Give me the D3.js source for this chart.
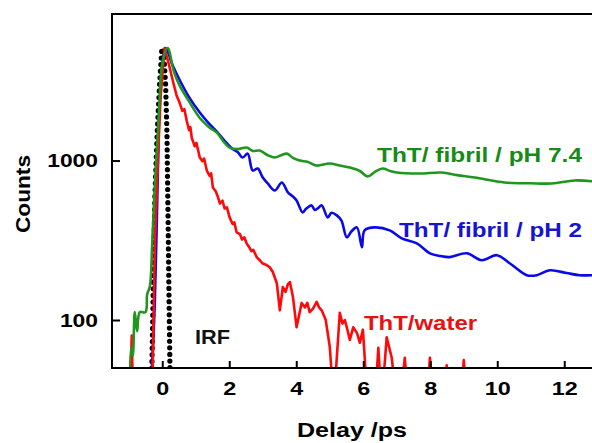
<!DOCTYPE html>
<html>
<head>
<meta charset="utf-8">
<script src="https://cdn.jsdelivr.net/npm/d3@7"></script>
<style>
  body { margin: 0; background: #fff; }
  text { font-family: "Liberation Sans", Arial, sans-serif; font-weight: bold; }
</style>
</head>
<body>
<div id="chart"></div>
<script>
// delay (ps), counts
const irf = [[-0.31, 50], [-0.27, 150], [-0.22, 600], [-0.15, 1500], [-0.08, 3000], [-0.01, 5080],
  [0.05, 4500], [0.1, 3000], [0.14, 1500], [0.17, 500], [0.2, 150], [0.23, 50]];

const water = [[-0.97, 30], [-0.91, 80], [-0.87, 30], [-0.3, 30], [-0.28, 60], [-0.22, 300], [-0.13, 1000],
  [-0.05, 2500], [0.07, 5080], [0.2, 4000], [0.31, 3200], [0.43, 2550], [0.52, 2300],
  [0.6, 2050], [0.66, 2100], [0.73, 1780], [0.8, 1550], [0.84, 1620], [0.88, 1390], [0.97, 1230],
  [1.02, 1290], [1.12, 1045], [1.2, 990], [1.25, 1030], [1.33, 866], [1.42, 800], [1.46, 830],
  [1.51, 678], [1.6, 640], [1.65, 600], [1.72, 538], [1.8, 560], [1.86, 500], [1.93, 508], [2.01, 440],
  [2.1, 400], [2.15, 410], [2.22, 355], [2.32, 345], [2.38, 320], [2.45, 330], [2.52, 302], [2.6, 285],
  [2.66, 270], [2.72, 275], [2.82, 248], [2.91, 237], [3.0, 226], [3.1, 222], [3.21, 214], [3.3, 200],
  [3.42, 170], [3.51, 115], [3.6, 161], [3.68, 150], [3.75, 168], [3.81, 173], [3.9, 140], [4.01, 90],
  [4.16, 128], [4.26, 120], [4.33, 128], [4.4, 112], [4.5, 118], [4.61, 130], [4.68, 120], [4.76, 115],
  [4.88, 100], [5.0, 68], [5.12, 30], [5.3, 111], [5.38, 95], [5.45, 100], [5.52, 88], [5.6, 75],
  [5.7, 90], [5.81, 83], [5.9, 72], [5.99, 87], [6.13, 30], [6.35, 30], [6.45, 67], [6.55, 30],
  [6.7, 78], [6.85, 58], [7.0, 30], [7.1, 30], [7.24, 58], [7.35, 30], [7.9, 30], [7.99, 58], [8.1, 30],
  [8.42, 30], [8.49, 52], [8.56, 30], [8.92, 30], [9.0, 56], [9.1, 30]];

const fibrilPH2 = [[-0.31, 50], [-0.22, 133], [-0.13, 865], [-0.07, 2370], [0.1, 5080], [0.3, 4000],
  [0.52, 3200], [0.8, 2500], [1.12, 2000], [1.35, 1750], [1.63, 1520], [1.85, 1340], [2.1, 1180],
  [2.25, 1130], [2.4, 1045], [2.55, 1105], [2.7, 866], [2.85, 891], [3.0, 783], [3.15, 718], [3.36, 649],
  [3.57, 729], [3.75, 631], [3.88, 600], [4.01, 562], [4.19, 473], [4.3, 500], [4.46, 523], [4.55, 490],
  [4.64, 501], [4.76, 523], [4.94, 440], [5.05, 470], [5.21, 453], [5.35, 420], [5.51, 330], [5.65, 360],
  [5.81, 381], [5.96, 286], [6.04, 365], [6.34, 381], [6.79, 365], [7.15, 325], [7.6, 302], [7.99, 262],
  [8.3, 252], [8.58, 248], [9.09, 262], [9.54, 237], [9.99, 255], [10.37, 227], [10.88, 191],
  [11.18, 191], [11.57, 205], [12.07, 197], [12.46, 191], [12.9, 191]];

const fibrilPH74 = [[-0.97, 30], [-0.93, 67], [-0.88, 60], [-0.82, 112], [-0.75, 85], [-0.67, 112],
  [-0.5, 112], [-0.45, 145], [-0.37, 162], [-0.3, 300], [-0.2, 865], [-0.1, 2000], [0.0, 4050],
  [0.16, 5080], [0.35, 3600], [0.52, 2950], [0.8, 2350], [1.12, 1850], [1.4, 1620], [1.63, 1496],
  [1.85, 1300], [2.01, 1206], [2.25, 1180], [2.52, 1206], [2.7, 1150], [2.91, 1155], [3.15, 1080],
  [3.36, 1045], [3.55, 1080], [3.72, 1105], [3.9, 1040], [4.1, 1000], [4.35, 980], [4.6, 930],
  [5.0, 958], [5.3, 930], [5.6, 904], [5.9, 860], [6.13, 794], [6.35, 850], [6.58, 891], [6.8, 860],
  [7.0, 841], [7.69, 829], [8.34, 841], [8.8, 810], [9.33, 783], [10.22, 729], [11.0, 720], [11.63, 718],
  [12.31, 750], [12.9, 739]];

const xTicks = [0, 2, 4, 6, 8, 10, 12];
const yTicks = [100, 1000];

const width = 592, height = 443;
const mLeft = 112, mTop = 14, mBottom = 368;

const svg = d3.select("#chart").append("svg")
  .attr("width", width)
  .attr("height", height);

const x = d3.scaleLinear().domain([-1.5, 13.5]).range([mLeft, mLeft + 15 * 33.5]);
const y = d3.scaleLog().domain([50, 8300]).range([mBottom, mTop]);

svg.append("clipPath").attr("id", "plot")
  .append("rect").attr("x", mLeft).attr("y", mTop).attr("width", width - mLeft).attr("height", mBottom - mTop);

const line = d3.line().x(d => x(d[0])).y(d => y(d[1]));
const smooth = d3.line().x(d => x(d[0])).y(d => y(d[1])).curve(d3.curveCatmullRom.alpha(0.5));

const g = svg.append("g").attr("clip-path", "url(#plot)");

// IRF dotted
g.append("path")
  .datum(irf)
  .attr("d", line)
  .attr("fill", "none")
  .attr("stroke", "#000")
  .attr("stroke-width", 5.2)
  .attr("stroke-linecap", "round")
  .attr("stroke-dasharray", "0 6.6");

const series = [
  { data: fibrilPH2, color: "#0a0ae6", gen: smooth },
  { data: water, color: "#ff0a0a", gen: line },
  { data: fibrilPH74, color: "#1f961f", gen: smooth }
];
series.forEach(s => {
  g.append("path")
    .datum(s.data)
    .attr("d", s.gen)
    .attr("fill", "none")
    .attr("stroke", s.color)
    .attr("stroke-width", 2.6)
    .attr("stroke-linejoin", "round");
});

// frame
svg.append("path")
  .attr("d", `M${width},${mTop}H${mLeft}V${mBottom}H${width}`)
  .attr("fill", "none")
  .attr("stroke", "#000")
  .attr("stroke-width", 2);

// x axis
const xAxis = d3.axisBottom(x).tickValues(xTicks).tickSizeInner(-7).tickSizeOuter(0).tickPadding(14);
const gx = svg.append("g").attr("transform", `translate(0,${mBottom})`).call(xAxis);
gx.select(".domain").remove();
gx.selectAll(".tick line").attr("stroke", "#000").attr("stroke-width", 2);
gx.selectAll(".tick text").attr("font-size", 19).attr("fill", "#000")
  .attr("font-family", "Liberation Sans, Arial, sans-serif")
  .attr("textLength", d => String(d).length * 13).attr("lengthAdjust", "spacingAndGlyphs");

// y axis
const yAxis = d3.axisLeft(y).tickValues(yTicks).tickFormat(d3.format("d")).tickSizeInner(-8).tickSizeOuter(0).tickPadding(14);
const gy = svg.append("g").attr("transform", `translate(${mLeft},0)`).call(yAxis);
gy.select(".domain").remove();
gy.selectAll(".tick line").attr("stroke", "#000").attr("stroke-width", 2);
gy.selectAll(".tick text").attr("font-size", 19).attr("fill", "#000")
  .attr("font-family", "Liberation Sans, Arial, sans-serif")
  .attr("textLength", d => String(d).length * 12.7).attr("lengthAdjust", "spacingAndGlyphs");

// axis titles
svg.append("text")
  .attr("x", 352).attr("y", 437)
  .attr("text-anchor", "middle")
  .attr("font-size", 20)
  .attr("textLength", 110).attr("lengthAdjust", "spacingAndGlyphs")
  .text("Delay /ps");

svg.append("text")
  .attr("transform", "translate(30,194) rotate(-90)")
  .attr("text-anchor", "middle")
  .attr("font-size", 20)
  .attr("textLength", 78).attr("lengthAdjust", "spacingAndGlyphs")
  .text("Counts");

// series labels
const labels = [
  { text: "ThT/ fibril / pH 7.4", x: 377, y: 162, w: 205, color: "#178a17" },
  { text: "ThT/ fibril / pH 2", x: 399, y: 237, w: 183, color: "#1414d2" },
  { text: "ThT/water", x: 364, y: 330, w: 113, color: "#e61212" },
  { text: "IRF", x: 195, y: 344, w: 35, color: "#111" }
];
svg.selectAll("text.lab")
  .data(labels)
  .join("text")
  .attr("class", "lab")
  .attr("x", d => d.x).attr("y", d => d.y)
  .attr("font-size", 20)
  .attr("fill", d => d.color)
  .attr("textLength", d => d.w).attr("lengthAdjust", "spacingAndGlyphs")
  .text(d => d.text);
</script>
</body>
</html>
